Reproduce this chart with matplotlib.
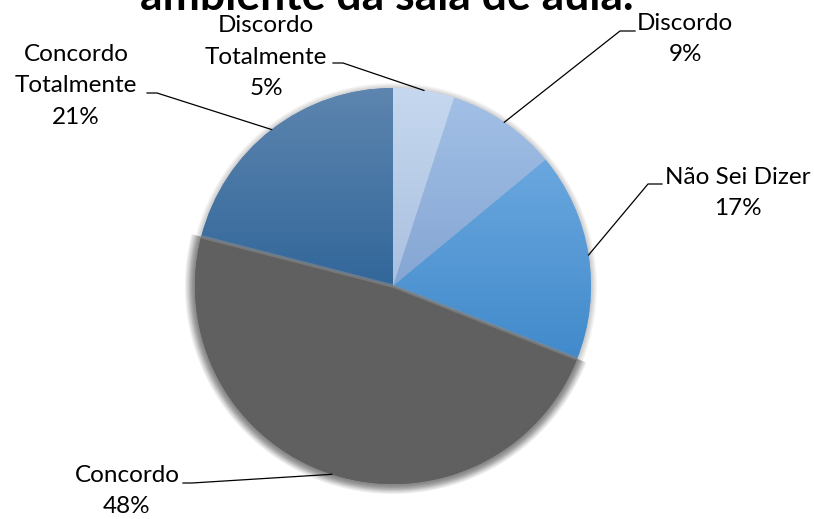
import matplotlib.pyplot as plt
import numpy as np
from matplotlib.patches import Wedge, Circle
from matplotlib.colors import to_rgb

W, H = 814, 519

labels = ['Discordo\nTotalmente', 'Discordo', 'Não Sei Dizer', 'Concordo', 'Concordo\nTotalmente']
values = [5, 9, 17, 48, 21]
title = 'ambiente da sala de aula.'

# vertical gradient of each slice, top -> bottom
top_colors = ['#c6d8ef', '#a2c0e6', '#6aa7df', '#606060', '#5d85af']
bottom_colors = ['#a9c0df', '#85a5d3', '#418acb', '#606060', '#32679a']

# label block centres and leader-line elbows, in pixels from the top-left
label_pos = [(266, 57), (685, 39), (738, 193), (127, 491), (76, 86)]
elbows = [((333, 63), (343, 63)), ((635, 31), (620, 31)), ((662, 184), (648, 184)),
          ((183, 483), (192, 483)), ((147, 93), (157, 93))]

plt.rcParams['font.family'] = ['Lato', 'DejaVu Sans']

fig = plt.figure(figsize=(W / 100, H / 100), dpi=100)
ax = fig.add_axes([0, 0, 1, 1])
cx, cy, r = 393, H - 286, 198

# faint shadow round the whole pie
for d in range(6, 0, -1):
    ax.add_patch(Circle((cx, cy - 1), r + d, color='#000000', alpha=0.035, lw=0, zorder=0))

wedges, _ = ax.pie(values, startangle=90, counterclock=False, center=(cx, cy), radius=r,
                   colors=top_colors, wedgeprops=dict(linewidth=0))

for w, c0, c1 in zip(wedges, top_colors, bottom_colors):
    t = np.radians(np.linspace(w.theta1, w.theta2, 60))
    xs = np.concatenate([[cx], cx + r * np.cos(t)])
    ys = np.concatenate([[cy], cy + r * np.sin(t)])
    f = np.linspace(0, 1, 256)[:, None]
    grad = (1 - f) * np.array(to_rgb(c0)) + f * np.array(to_rgb(c1))
    im = ax.imshow(grad[:, None, :], extent=(xs.min(), xs.max(), ys.min(), ys.max()),
                   origin='upper', aspect='auto', interpolation='bilinear', zorder=2)
    im.set_clip_path(w)

# soft blurred rim of the big grey slice
g = wedges[3]
for d in range(1, 11):
    ax.add_patch(Wedge((cx, cy), r + d, g.theta1, g.theta2, color='#606060',
                       alpha=0.09, lw=0, zorder=1))
for th in (g.theta1, g.theta2):
    a = np.radians(th)
    ax.plot([cx, cx + r * np.cos(a)], [cy, cy + r * np.sin(a)], color='#888888',
            lw=2.5, alpha=0.6, solid_capstyle='butt', zorder=3)

# labels with leader lines to the middle of each slice rim
for w, lab, v, (lx, ly), (p0, p1) in zip(wedges, labels, values, label_pos, elbows):
    a = np.radians((w.theta1 + w.theta2) / 2)
    ex, ey = cx + r * np.cos(a), cy + r * np.sin(a)
    ax.plot([p0[0], p1[0], ex], [H - p0[1], H - p1[1], ey], color='black', lw=0.9, zorder=4)
    ax.text(lx, H - ly, f'{lab}\n{v}%', ha='center', va='center', fontsize=17.5,
            linespacing=1.6, multialignment='center', zorder=5)

ax.text(387, H - 10, title, ha='center', va='baseline', fontsize=32, fontweight='bold')

ax.set_xlim(0, W)
ax.set_ylim(0, H)
ax.axis('off')

fig.savefig('out.png', dpi=100)
